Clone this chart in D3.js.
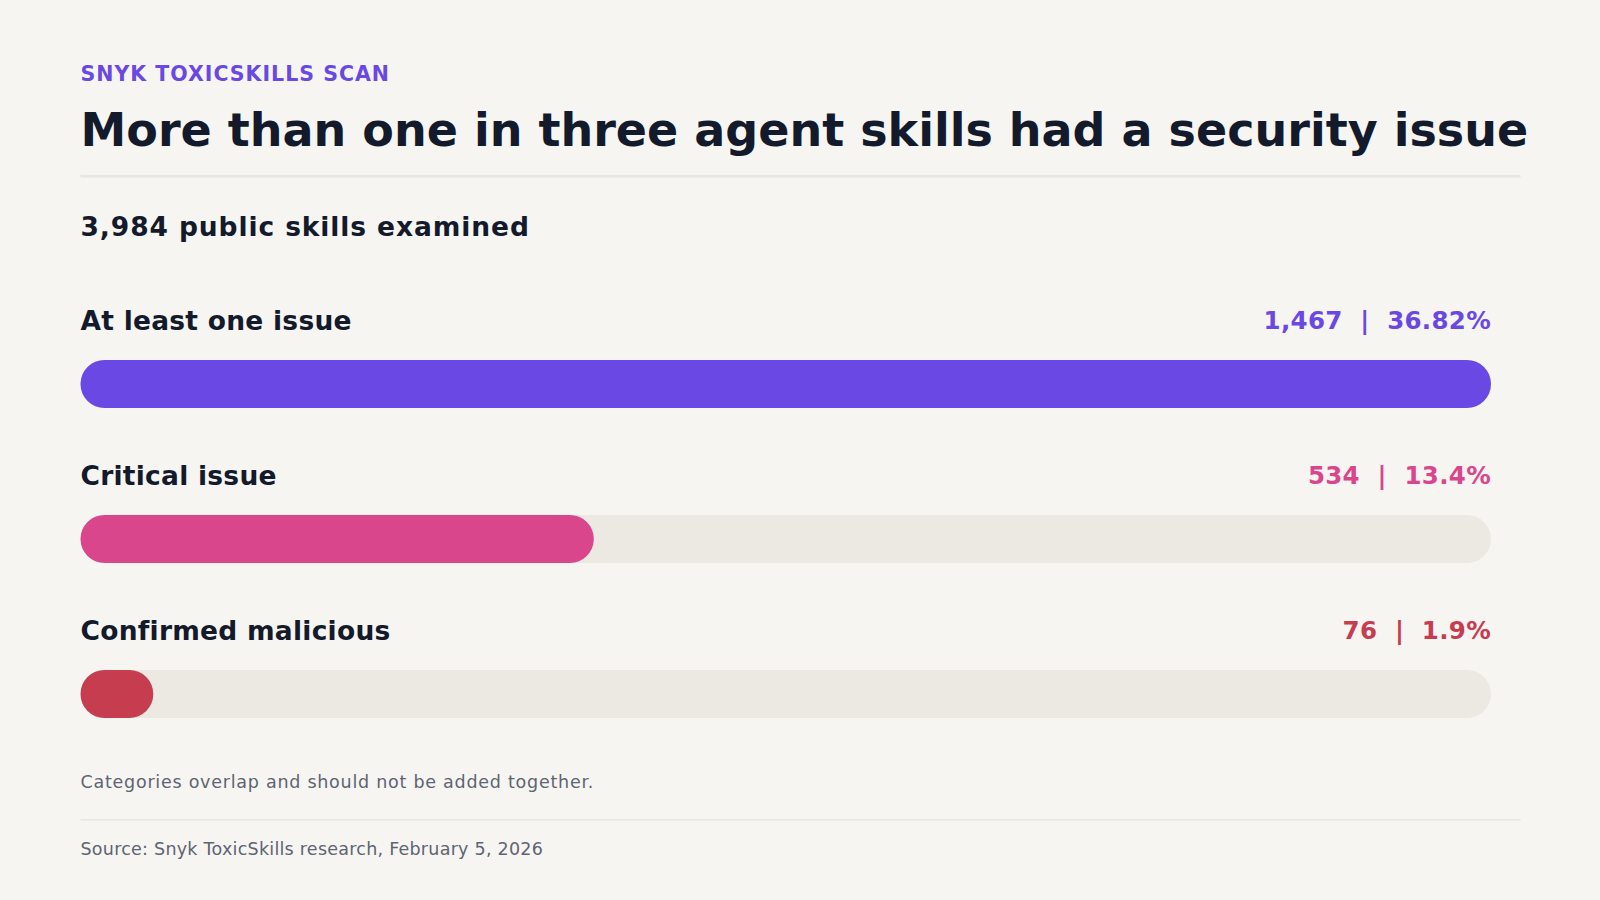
<!DOCTYPE html>
<html><head><meta charset="utf-8">
<script src="https://cdn.jsdelivr.net/npm/d3@7"></script>
<style>body{margin:0;background:#f7f5f1;}svg{display:block;font-family:"DejaVu Sans",sans-serif;}</style>
</head><body><svg id="c" width="1600" height="900"></svg>
<script>
const categories = ["At least one issue","Critical issue","Confirmed malicious"];
const counts = [1467, 534, 76];
const percents = [36.82, 13.4, 1.9];
const percentLabels = ["36.82%","13.4%","1.9%"];
const colors = ["#6a48e3","#d9468c","#c63d50"];

const svg = d3.select("#c");
svg.append("rect").attr("width",1600).attr("height",900).attr("fill","#f7f5f1");
const L = 80.5, R = 1491;
svg.append("text").attr("x",L).attr("y",81).attr("font-size",20.5).attr("font-weight","bold").attr("fill","#6a48e3").attr("letter-spacing",1).text("SNYK TOXICSKILLS SCAN");
svg.append("text").attr("x",L).attr("y",146).attr("font-size",46).attr("font-weight","bold").attr("fill","#131a2b").text("More than one in three agent skills had a security issue");
svg.append("rect").attr("x",L).attr("y",175).attr("width",1440).attr("height",2.5).attr("fill","#e8e6e2");
svg.append("text").attr("x",L).attr("y",236).attr("font-size",26.5).attr("font-weight","bold").attr("fill","#131a2b").attr("letter-spacing",0.9).text("3,984 public skills examined");

const x = d3.scaleLinear().domain([0, d3.max(percents)]).range([0, R-L]);
const y = d3.scaleLinear().domain([0,1]).range([360, 515]);
const fmt = d3.format(",");
categories.forEach((c,i)=>{
  const g = svg.append("g").attr("transform",`translate(0,${y(i)})`);
  g.append("text").attr("x",L).attr("y",-30).attr("font-size",26.5).attr("font-weight","bold").attr("fill","#131a2b").attr("letter-spacing",0.25).text(c);
  g.append("text").attr("x",R).attr("y",-31).attr("text-anchor","end").attr("font-size",24.5).attr("font-weight","bold").attr("fill",colors[i]).attr("letter-spacing",0.3).attr("xml:space","preserve").text(`${fmt(counts[i])}  |  ${percentLabels[i]}`);
  g.append("rect").attr("x",L).attr("y",0).attr("width",R-L).attr("height",48).attr("rx",24).attr("fill","#ece9e2");
  g.append("rect").attr("x",L).attr("y",0).attr("width",x(percents[i])).attr("height",48).attr("rx",24).attr("fill",colors[i]);
});
svg.append("text").attr("x",L).attr("y",788).attr("font-size",17.5).attr("fill","#5d6472").attr("letter-spacing",0.75).text("Categories overlap and should not be added together.");
svg.append("rect").attr("x",L).attr("y",819).attr("width",1440).attr("height",1.5).attr("fill","#e8e6e2");
svg.append("text").attr("x",L).attr("y",855).attr("font-size",17.5).attr("fill","#5d6472").attr("letter-spacing",0.25).text("Source: Snyk ToxicSkills research, February 5, 2026");
</script></body></html>
